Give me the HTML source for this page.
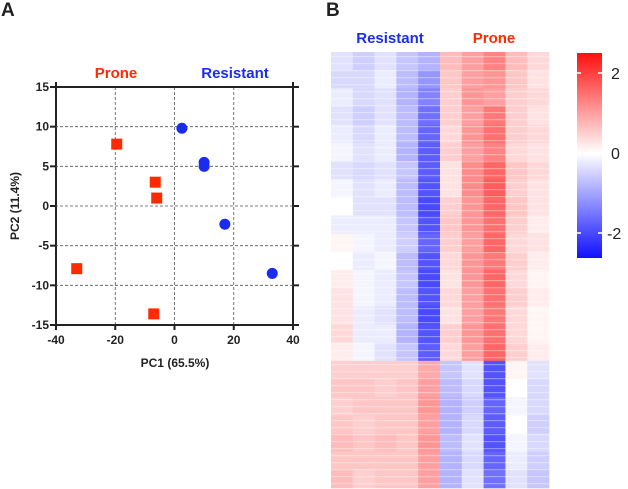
<!DOCTYPE html>
<html><head><meta charset="utf-8"><style>
html,body{margin:0;padding:0;background:#fff;}
svg{display:block;font-family:"Liberation Sans",Arial,sans-serif;}
</style></head><body>
<svg id="fig" width="628" height="489" viewBox="0 0 628 489" xmlns="http://www.w3.org/2000/svg">
<text x="1" y="16" font-size="19" font-weight="bold" fill="#222">A</text>
<text x="326" y="16" font-size="19" font-weight="bold" fill="#222">B</text>
<text x="116" y="78" font-size="15" font-weight="bold" fill="#ff2a00" text-anchor="middle">Prone</text>
<text x="235" y="78" font-size="15" font-weight="bold" fill="#1a2cf0" text-anchor="middle">Resistant</text>
<g id="scatter"></g>
<text x="175" y="367" font-size="12" font-weight="bold" fill="#222" text-anchor="middle">PC1 (65.5%)</text>
<text transform="translate(19,206) rotate(-90)" font-size="12" font-weight="bold" fill="#222" text-anchor="middle">PC2 (11.4%)</text>
<text x="390" y="43" font-size="15" font-weight="bold" fill="#1a2cf0" text-anchor="middle">Resistant</text>
<text x="494" y="43" font-size="15" font-weight="bold" fill="#ff2a00" text-anchor="middle">Prone</text>
<g id="heat"></g>
<defs><linearGradient id="cb" x1="0" y1="0" x2="0" y2="1">
<stop offset="0" stop-color="#ff1010"/><stop offset="0.49" stop-color="#ffffff"/><stop offset="1" stop-color="#1010ff"/></linearGradient></defs>
<rect x="577" y="53" width="25" height="205" fill="url(#cb)"/>
<g id="cbticks"></g>
</svg>
<script>
const pcaProneX=[-19.5,-6.5,-6,-33,-7];
const pcaProneY=[7.8,3,1,-7.9,-13.6];
const pcaResX=[2.5,10,10,17,33];
const pcaResY=[9.8,5.5,5,-2.3,-8.5];
const xTicks=[-40,-20,0,20,40];
const yTicks=[15,10,5,0,-5,-10,-15];
const NS="http://www.w3.org/2000/svg";
const X0=56,X1=293,Y0=87,Y1=325;
const sx=v=>X0+(v+40)/80*(X1-X0);
const sy=v=>Y1-(v+15)/30*(Y1-Y0);
function mk(tag,attrs,parent){const e=document.createElementNS(NS,tag);for(const k in attrs)e.setAttribute(k,attrs[k]);parent.appendChild(e);return e;}
const sc=document.getElementById('scatter');
xTicks.forEach(t=>{
 const inner=t>-40&&t<40;
 const l=mk('line',{x1:sx(t),x2:sx(t),y1:inner?Y0:Y0-5,y2:Y1+5,stroke:inner?'#555':'#222','stroke-width':inner?0.8:2,'stroke-dasharray':inner?'3,2':'none'},sc);
 
 
 if(inner){const tk=mk('line',{x1:sx(t),x2:sx(t),y1:Y1,y2:Y1+5,stroke:'#222','stroke-width':2},sc);
 
 }
 const tx=mk('text',{x:sx(t),y:Y1+19,'font-size':12,'font-weight':'bold',fill:'#222','text-anchor':'middle'},sc);
 tx.textContent=t;
 
 
});
yTicks.forEach(t=>{
 const edge=(t===15||t===-15);
 const l=mk('line',{x1:X0-6,x2:X1+6,y1:sy(t),y2:sy(t),stroke:edge?'#222':'#555','stroke-width':edge?2:0.8,'stroke-dasharray':edge?'none':'3,2'},sc);
 
 
 if(!edge){const tk=mk('line',{x1:X0-6,x2:X0,y1:sy(t),y2:sy(t),stroke:'#222','stroke-width':2},sc);
 
 
 const tk2=mk('line',{x1:X1,x2:X1+6,y1:sy(t),y2:sy(t),stroke:'#222','stroke-width':2},sc);
 
 }
 const tx=mk('text',{x:X0-7,y:sy(t)+4,'font-size':12,'font-weight':'bold',fill:'#222','text-anchor':'end'},sc);
 tx.textContent=t;
 
 
});
pcaProneX.forEach((v,i)=>{
 const r=mk('rect',{x:sx(v)-5.5,y:sy(pcaProneY[i])-5.5,width:11,height:11,fill:'#ff2a00'},sc);
 
 
});
pcaResX.forEach((v,i)=>{
 const c=mk('circle',{cx:sx(v),cy:sy(pcaResY[i]),r:5.5,fill:'#1a2cf0'},sc);
 
 
});
// heatmap column values (top 17 rows / bottom 7 rows)
const col1=[-0.3,-0.4,-0.2,-0.3,-0.2,-0.1,-0.3,-0.1,0.0,-0.2,0.1,0.0,0.2,0.3,0.3,0.4,0.2,0.5,0.6,0.5,0.6,0.7,0.6,0.7];
const col2=[-0.5,-0.4,-0.4,-0.5,-0.4,-0.3,-0.4,-0.3,-0.3,-0.2,-0.1,-0.2,-0.1,-0.1,-0.2,-0.2,-0.1,0.5,0.6,0.6,0.5,0.6,0.6,0.5];
const col3=[-0.3,-0.2,-0.3,-0.3,-0.2,-0.2,-0.3,-0.2,-0.3,-0.2,-0.2,-0.1,-0.2,-0.2,-0.3,-0.2,-0.3,0.5,0.5,0.6,0.6,0.7,0.6,0.6];
const col4=[-0.6,-0.7,-0.8,-0.7,-0.7,-0.8,-0.6,-0.7,-0.7,-0.6,-0.5,-0.7,-0.6,-0.7,-0.7,-0.8,-0.6,0.5,0.6,0.6,0.6,0.6,0.6,0.6];
const col5=[-0.8,-1.1,-1.3,-1.5,-1.6,-1.7,-1.7,-1.8,-1.9,-1.8,-1.6,-1.8,-1.9,-1.8,-1.9,-1.8,-1.7,0.9,1.0,1.1,1.0,1.1,1.0,1.0];
const col6=[0.7,0.6,0.5,0.5,0.4,0.5,0.3,0.3,0.5,0.6,0.5,0.4,0.3,0.4,0.3,0.5,0.4,-0.6,-0.7,-0.8,-0.8,-0.7,-0.8,-0.8];
const col7=[1.0,1.0,1.1,1.0,1.1,1.0,1.2,1.2,1.1,1.1,1.0,1.1,1.1,1.0,1.0,1.1,1.0,-0.3,-0.4,-0.5,-0.4,-0.3,-0.4,-0.3];
const col8=[1.3,1.1,1.0,1.4,1.5,1.3,1.6,1.7,1.6,1.5,1.6,1.4,1.6,1.5,1.4,1.5,1.6,-1.8,-1.8,-1.6,-1.7,-1.8,-1.6,-1.5];
const col9=[0.7,0.6,0.5,0.5,0.5,0.4,0.6,0.5,0.6,0.5,0.4,0.5,0.4,0.5,0.4,0.4,0.5,0.1,0.0,-0.1,0.0,-0.1,-0.2,-0.3];
const col10=[0.4,0.3,0.4,0.3,0.4,0.3,0.4,0.3,0.3,0.2,0.3,0.2,0.1,0.2,0.1,0.1,0.2,-0.3,-0.4,-0.4,-0.5,-0.4,-0.5,-0.6];
const heatCols=[col1,col2,col3,col4,col5,col6,col7,col8,col9,col10];
const cbTicks=[2,0,-2];
const HX0=331,HX1=549,HY0=52,HY1=488;
function color(v){const t=Math.max(-1,Math.min(1,v/2.5));
 if(t>=0){const g=Math.round(255-239*t);return `rgb(255,${g},${g})`;}
 const g=Math.round(255+239*t);return `rgb(${g},${g},255)`;}
const hm=document.getElementById('heat');
const cw=(HX1-HX0)/heatCols.length;
heatCols.forEach((col,ci)=>{
 const rh=(HY1-HY0)/col.length;
 col.forEach((v,ri)=>{
  const r=mk('rect',{x:HX0+ci*cw,y:HY0+ri*rh,width:cw+0.3,height:rh+0.3,fill:color(v)},hm);
  
  
 });
});
const ov=mk('rect',{x:HX0,y:HY0,width:HX1-HX0,height:HY1-HY0,fill:'url(#stripes)'},hm);


const defs=document.querySelector('defs');
const pat=mk('pattern',{id:'stripes',width:4,height:7,patternUnits:'userSpaceOnUse'},defs);
mk('rect',{x:0,y:0,width:4,height:1.2,fill:'rgba(255,255,255,0.35)'},pat);
const cbt=document.getElementById('cbticks');
const cy=v=>153-v*40;
cbTicks.forEach(v=>{
 const a=mk('line',{x1:577,x2:581,y1:cy(v),y2:cy(v),stroke:'#fff','stroke-width':1.5},cbt);
 
 
 const b=mk('line',{x1:598,x2:602,y1:cy(v),y2:cy(v),stroke:'#fff','stroke-width':1.5},cbt);
 
 
 const t=mk('text',{x:v<0?607:611,y:cy(v)+6,'font-size':16,fill:'#222'},cbt);
 t.textContent=v;
 
 
});
</script>
</body></html>
